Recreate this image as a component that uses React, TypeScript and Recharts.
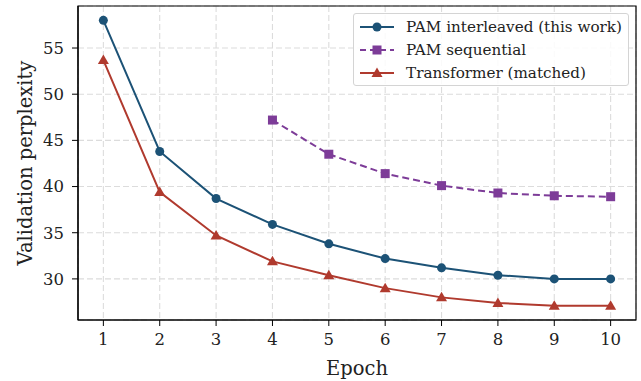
import React from 'react';
import { LineChart, Line, XAxis, YAxis, CartesianGrid, ReferenceArea } from 'recharts';

const epochs = [1, 2, 3, 4, 5, 6, 7, 8, 9, 10];
const pamInterleaved = [58.0, 43.8, 38.7, 35.9, 33.8, 32.2, 31.2, 30.4, 30.0, 30.0];
const pamSequential = [null, null, null, 47.2, 43.5, 41.4, 40.1, 39.3, 39.0, 38.9];
const transformer = [53.7, 39.4, 34.7, 31.9, 30.4, 29.0, 28.0, 27.4, 27.1, 27.1];
const yTicks = [30, 35, 40, 45, 50, 55];

const BLUE = '#1c5276';
const PURPLE = '#7d3c98';
const RED = '#b03a2e';
const FONT = 'DejaVu Serif, serif';
const X_DOMAIN = [0.55, 10.45];
const Y_DOMAIN = [25.55, 59.55];

const data = epochs.map((e, i) => ({
  epoch: e,
  interleaved: pamInterleaved[i],
  sequential: pamSequential[i],
  transformer: transformer[i],
}));

const Square = (props: any) => {
  const { cx, cy, fill } = props;
  if (cx == null || cy == null) return null;
  return <rect x={cx - 4.5} y={cy - 4.5} width={9} height={9} fill={fill} />;
};

const Triangle = (props: any) => {
  const { cx, cy, fill } = props;
  if (cx == null || cy == null) return null;
  return <path d={`M${cx},${cy - 5.5} L${cx + 5.5},${cy + 4} L${cx - 5.5},${cy + 4} Z`} fill={fill} />;
};

const items = [
  { label: 'PAM interleaved (this work)', color: BLUE, marker: 'circle', dash: undefined },
  { label: 'PAM sequential', color: PURPLE, marker: 'square', dash: '6 4' },
  { label: 'Transformer (matched)', color: RED, marker: 'triangle', dash: undefined },
];

// legend drawn as an overlay so it doesn't shrink the plot area
const LegendBox = () => (
  <div
    style={{
      position: 'absolute',
      left: 353,
      top: 13,
      width: 276,
      height: 73,
      boxSizing: 'border-box',
      border: '1px solid #d4d4d4',
      borderRadius: 3,
      background: 'rgba(255,255,255,0.85)',
      padding: '1px 0 0 5px',
      fontFamily: FONT,
      fontSize: 15.2,
      color: '#222',
    }}
  >
    {items.map((it) => (
      <div key={it.label} style={{ display: 'flex', alignItems: 'center', height: 23 }}>
        <svg width={36} height={12} style={{ marginRight: 11, flexShrink: 0 }}>
          <line x1={1} y1={6} x2={35} y2={6} stroke={it.color} strokeWidth={2} strokeDasharray={it.dash} />
          {it.marker === 'circle' && <circle cx={18} cy={6} r={4.5} fill={it.color} />}
          {it.marker === 'square' && <rect x={13.5} y={1.5} width={9} height={9} fill={it.color} />}
          {it.marker === 'triangle' && <path d="M18,0.5 L23.5,10 L12.5,10 Z" fill={it.color} />}
        </svg>
        <span style={{ whiteSpace: 'nowrap' }}>{it.label}</span>
      </div>
    ))}
  </div>
);

export default function App() {
  return (
    <div style={{ position: 'absolute', left: 0, top: 0, width: 641, height: 381, background: '#fff' }}>
      <LineChart width={641} height={381} data={data} margin={{ top: 6, right: 5, left: 15, bottom: 0 }}>
        <CartesianGrid stroke="#dcdcdc" strokeWidth={1.1} strokeDasharray="6 3" />
        <XAxis
          dataKey="epoch"
          type="number"
          domain={X_DOMAIN}
          ticks={epochs}
          height={61}
          tickSize={6}
          tickMargin={7}
          stroke="#000"
          axisLine={{ stroke: '#000', strokeWidth: 1.2 }}
          tick={{ fill: '#222', fontFamily: FONT, fontSize: 16.5 }}
          label={{ value: 'Epoch', position: 'insideBottom', offset: 6, fill: '#222', fontFamily: FONT, fontSize: 19.5 }}
        />
        <YAxis
          type="number"
          domain={Y_DOMAIN}
          ticks={yTicks}
          width={63}
          tickSize={6}
          tickMargin={8}
          stroke="#000"
          axisLine={{ stroke: '#000', strokeWidth: 1.2 }}
          tick={{ fill: '#222', fontFamily: FONT, fontSize: 16.5 }}
          label={{ value: 'Validation perplexity', angle: -90, position: 'insideLeft', offset: 10, style: { textAnchor: 'middle' }, fill: '#222', fontFamily: FONT, fontSize: 19.5 }}
        />
        <ReferenceArea x1={X_DOMAIN[0]} x2={X_DOMAIN[1]} y1={Y_DOMAIN[0]} y2={Y_DOMAIN[1]} fill="none" stroke="#000" strokeWidth={1.2} />
        <Line
          dataKey="interleaved"
          stroke={BLUE}
          strokeWidth={2}
          dot={{ r: 4.5, fill: BLUE, stroke: BLUE, strokeWidth: 0 }}
          activeDot={false}
          isAnimationActive={false}
        />
        <Line
          dataKey="sequential"
          stroke={PURPLE}
          strokeWidth={2}
          strokeDasharray="7 4"
          dot={<Square fill={PURPLE} />}
          activeDot={false}
          isAnimationActive={false}
        />
        <Line
          dataKey="transformer"
          stroke={RED}
          strokeWidth={2}
          dot={<Triangle fill={RED} />}
          activeDot={false}
          isAnimationActive={false}
        />
      </LineChart>
      <LegendBox />
    </div>
  );
}
